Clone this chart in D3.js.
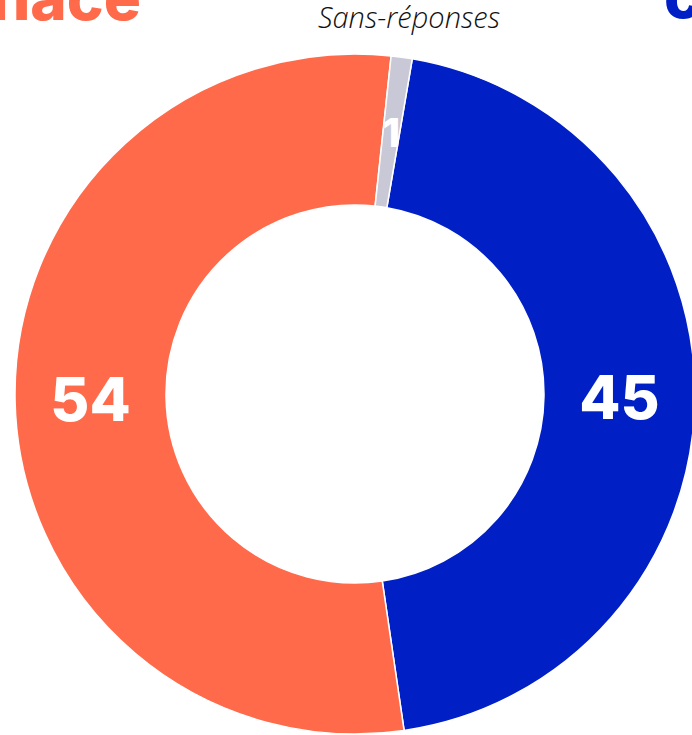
<!DOCTYPE html>
<html>
<head>
    <meta charset="utf-8">
    <title>Sondage - donut</title>
    <style>
        body {
            margin: 0;
            background-color: #ffffff;
            overflow: hidden;
        }
        .value {
            font-family: Inter, "Open Sans", sans-serif;
            font-weight: 800;
            fill: white;
            text-anchor: middle;
            dominant-baseline: central;
        }
        .title {
            font-family: Inter, "Open Sans", sans-serif;
            font-weight: 800;
            font-size: 62px;
        }
        .note {
            font-family: "Open Sans", sans-serif;
            font-style: italic;
            font-weight: 300;
            font-size: 29px;
            fill: #111;
            text-anchor: middle;
        }
    </style>
</head>
<body>
    <div id="chart"></div>

    <script src="https://cdnjs.cloudflare.com/ajax/libs/d3/7.8.5/d3.min.js"></script>
    <script>
        // Valeurs
        const categories = ['Une chance', 'Une menace', 'Sans-réponses'];
        const values = [45, 54, 1];
        const colors = ['#0020c6', '#ff6a4b', '#c9c8d6'];

        const width = 692;
        const height = 735;
        const cx = 355, cy = 394;
        const outerR = 340, innerR = 189;

        const svg = d3.select('#chart')
            .append('svg')
            .attr('width', width)
            .attr('height', height);

        const g = svg.append('g')
            .attr('transform', `translate(${cx},${cy})`);

        const pie = d3.pie()
            .sort(null)
            .value(d => d)
            .startAngle(9.7 * Math.PI / 180)
            .endAngle(9.7 * Math.PI / 180 + 2 * Math.PI);

        const arc = d3.arc()
            .innerRadius(innerR)
            .outerRadius(outerR);

        const arcs = pie(values);

        g.selectAll('path')
            .data(arcs)
            .enter()
            .append('path')
            .attr('d', arc)
            .attr('fill', (d, i) => colors[i])
            .attr('stroke', 'white')
            .attr('stroke-width', 1.5);

        // valeurs au centre de chaque part
        g.selectAll('.value')
            .data(arcs)
            .enter()
            .append('text')
            .attr('class', 'value')
            .attr('transform', d => `translate(${arc.centroid(d)})`)
            .style('font-size', d => d.data < 5 ? '40px' : '60px')
            .text(d => d.data);

        // titres (coupés par le cadre)
        svg.append('text')
            .attr('class', 'title')
            .attr('x', 141)
            .attr('y', 20)
            .attr('text-anchor', 'end')
            .attr('fill', colors[1])
            .text(categories[1].toLowerCase());

        svg.append('text')
            .attr('class', 'title')
            .attr('x', 664)
            .attr('y', 18)
            .attr('fill', colors[0])
            .text(categories[0].split(' ')[1]);

        svg.append('text')
            .attr('class', 'note')
            .attr('x', 409)
            .attr('y', 28)
            .text(categories[2]);
    </script>
</body>
</html>
